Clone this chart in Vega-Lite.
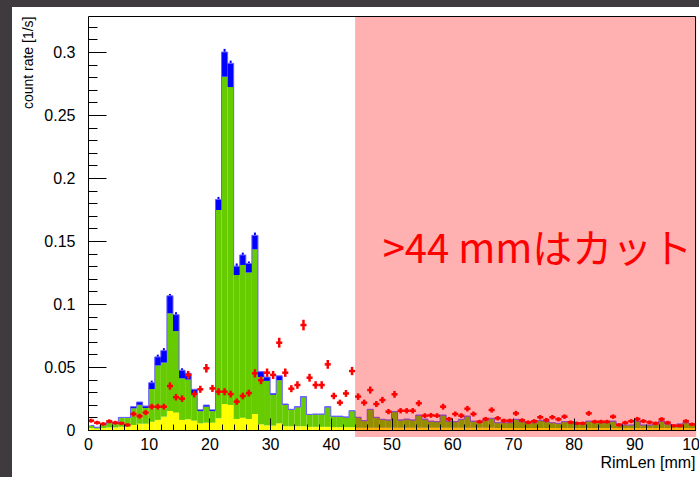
{
 "$schema": "https://vega.github.io/schema/vega-lite/v6.json",
 "width": 607, "height": 414,
 "autosize": "none",
 "padding": {"left": 88, "top": 16, "right": 4, "bottom": 47},
 "background": "#3f3a3d",
 "config": {"view": {"stroke": null}, "font": "Liberation Sans"},
 "datasets": {
  "bumps": [
   {"c":10.5,"b":0.0375,"t":0.0392},
   {"c":11.5,"b":0.0580,"t":0.0598},
   {"c":12.5,"b":0.0630,"t":0.0650},
   {"c":13.5,"b":0.1065,"t":0.1080},
   {"c":14.5,"b":0.0915,"t":0.0935},
   {"c":15.5,"b":0.0474,"t":0.0490},
   {"c":21.5,"b":0.1830,"t":0.1850},
   {"c":22.5,"b":0.3000,"t":0.3025},
   {"c":23.5,"b":0.2910,"t":0.2932},
   {"c":24.5,"b":0.1300,"t":0.1322},
   {"c":25.5,"b":0.1389,"t":0.1408},
   {"c":26.5,"b":0.1322,"t":0.1338},
   {"c":27.5,"b":0.1545,"t":0.1567}
  ]
 },
 "data": {"values": [
{"lo":0,"hi":1,"c":0.5,"y":0.0015,"g":0.0034,"b":0.0036,"r":0.0074,"e":0.0016},
{"lo":1,"hi":2,"c":1.5,"y":0.0010,"g":0.0020,"b":0.0022,"r":0.0058,"e":0.0015},
{"lo":2,"hi":3,"c":2.5,"y":0.0015,"g":0.0040,"b":0.0042,"r":0.0048,"e":0.0014},
{"lo":3,"hi":4,"c":3.5,"y":0.0020,"g":0.0058,"b":0.0062,"r":0.0069,"e":0.0016},
{"lo":4,"hi":5,"c":4.5,"y":0.0020,"g":0.0050,"b":0.0054,"r":0.0058,"e":0.0015},
{"lo":5,"hi":6,"c":5.5,"y":0.0025,"g":0.0095,"b":0.0100,"r":0.0053,"e":0.0014},
{"lo":6,"hi":7,"c":6.5,"y":0.0025,"g":0.0095,"b":0.0100,"r":0.0040,"e":0.0013},
{"lo":7,"hi":8,"c":7.5,"y":0.0040,"g":0.0172,"b":0.0185,"r":0.0127,"e":0.0020},
{"lo":8,"hi":9,"c":8.5,"y":0.0050,"g":0.0200,"b":0.0222,"r":0.0110,"e":0.0019},
{"lo":9,"hi":10,"c":9.5,"y":0.0050,"g":0.0175,"b":0.0190,"r":0.0138,"e":0.0020},
{"lo":10,"hi":11,"c":10.5,"y":0.0066,"g":0.0325,"b":0.0375,"r":0.0185,"e":0.0023},
{"lo":11,"hi":12,"c":11.5,"y":0.0080,"g":0.0512,"b":0.0580,"r":0.0185,"e":0.0023},
{"lo":12,"hi":13,"c":12.5,"y":0.0106,"g":0.0535,"b":0.0630,"r":0.0185,"e":0.0023},
{"lo":13,"hi":14,"c":13.5,"y":0.0151,"g":0.0926,"b":0.1065,"r":0.0349,"e":0.0029},
{"lo":14,"hi":15,"c":14.5,"y":0.0138,"g":0.0785,"b":0.0915,"r":0.0260,"e":0.0026},
{"lo":15,"hi":16,"c":15.5,"y":0.0080,"g":0.0410,"b":0.0474,"r":0.0249,"e":0.0026},
{"lo":16,"hi":17,"c":16.5,"y":0.0085,"g":0.0400,"b":0.0450,"r":0.0437,"e":0.0032},
{"lo":17,"hi":18,"c":17.5,"y":0.0074,"g":0.0280,"b":0.0323,"r":0.0286,"e":0.0027},
{"lo":18,"hi":19,"c":18.5,"y":0.0053,"g":0.0150,"b":0.0160,"r":0.0323,"e":0.0028},
{"lo":19,"hi":20,"c":19.5,"y":0.0058,"g":0.0185,"b":0.0198,"r":0.0490,"e":0.0034},
{"lo":20,"hi":21,"c":20.5,"y":0.0058,"g":0.0150,"b":0.0160,"r":0.0330,"e":0.0028},
{"lo":21,"hi":22,"c":21.5,"y":0.0093,"g":0.1746,"b":0.1830,"r":0.0304,"e":0.0028},
{"lo":22,"hi":23,"c":22.5,"y":0.0206,"g":0.2804,"b":0.3000,"r":0.0304,"e":0.0028},
{"lo":23,"hi":24,"c":23.5,"y":0.0198,"g":0.2722,"b":0.2910,"r":0.0285,"e":0.0027},
{"lo":24,"hi":25,"c":24.5,"y":0.0087,"g":0.1230,"b":0.1300,"r":0.0225,"e":0.0025},
{"lo":25,"hi":26,"c":25.5,"y":0.0098,"g":0.1310,"b":0.1389,"r":0.0270,"e":0.0026},
{"lo":26,"hi":27,"c":26.5,"y":0.0087,"g":0.1250,"b":0.1322,"r":0.0293,"e":0.0027},
{"lo":27,"hi":28,"c":27.5,"y":0.0127,"g":0.1434,"b":0.1545,"r":0.0450,"e":0.0033},
{"lo":28,"hi":29,"c":28.5,"y":0.0045,"g":0.0420,"b":0.0463,"r":0.0395,"e":0.0031},
{"lo":29,"hi":30,"c":29.5,"y":0.0037,"g":0.0390,"b":0.0420,"r":0.0455,"e":0.0033},
{"lo":30,"hi":31,"c":30.5,"y":0.0035,"g":0.0280,"b":0.0290,"r":0.0437,"e":0.0032},
{"lo":31,"hi":32,"c":31.5,"y":0.0053,"g":0.0395,"b":0.0430,"r":0.0693,"e":0.0039},
{"lo":32,"hi":33,"c":32.5,"y":0.0030,"g":0.0200,"b":0.0206,"r":0.0455,"e":0.0033},
{"lo":33,"hi":34,"c":33.5,"y":0.0030,"g":0.0160,"b":0.0164,"r":0.0328,"e":0.0028},
{"lo":34,"hi":35,"c":34.5,"y":0.0030,"g":0.0180,"b":0.0185,"r":0.0357,"e":0.0030},
{"lo":35,"hi":36,"c":35.5,"y":0.0030,"g":0.0260,"b":0.0265,"r":0.0833,"e":0.0042},
{"lo":36,"hi":37,"c":36.5,"y":0.0025,"g":0.0120,"b":0.0124,"r":0.0415,"e":0.0031},
{"lo":37,"hi":38,"c":37.5,"y":0.0025,"g":0.0124,"b":0.0127,"r":0.0357,"e":0.0030},
{"lo":38,"hi":39,"c":38.5,"y":0.0025,"g":0.0124,"b":0.0127,"r":0.0357,"e":0.0030},
{"lo":39,"hi":40,"c":39.5,"y":0.0025,"g":0.0180,"b":0.0185,"r":0.0521,"e":0.0035},
{"lo":40,"hi":41,"c":40.5,"y":0.0022,"g":0.0106,"b":0.0110,"r":0.0270,"e":0.0026},
{"lo":41,"hi":42,"c":41.5,"y":0.0022,"g":0.0106,"b":0.0110,"r":0.0217,"e":0.0024},
{"lo":42,"hi":43,"c":42.5,"y":0.0022,"g":0.0100,"b":0.0104,"r":0.0290,"e":0.0027},
{"lo":43,"hi":44,"c":43.5,"y":0.0022,"g":0.0150,"b":0.0153,"r":0.0468,"e":0.0033},
{"lo":44,"hi":45,"c":44.5,"y":0.0018,"g":0.0098,"b":0.0101,"r":0.0265,"e":0.0026},
{"lo":45,"hi":46,"c":45.5,"y":0.0018,"g":0.0071,"b":0.0074,"r":0.0217,"e":0.0024},
{"lo":46,"hi":47,"c":46.5,"y":0.0018,"g":0.0160,"b":0.0164,"r":0.0317,"e":0.0028},
{"lo":47,"hi":48,"c":47.5,"y":0.0018,"g":0.0098,"b":0.0101,"r":0.0206,"e":0.0024},
{"lo":48,"hi":49,"c":48.5,"y":0.0018,"g":0.0082,"b":0.0085,"r":0.0238,"e":0.0025},
{"lo":49,"hi":50,"c":49.5,"y":0.0018,"g":0.0077,"b":0.0080,"r":0.0146,"e":0.0021},
{"lo":50,"hi":51,"c":50.5,"y":0.0018,"g":0.0142,"b":0.0146,"r":0.0283,"e":0.0027},
{"lo":51,"hi":52,"c":51.5,"y":0.0018,"g":0.0077,"b":0.0080,"r":0.0153,"e":0.0021},
{"lo":52,"hi":53,"c":52.5,"y":0.0018,"g":0.0084,"b":0.0087,"r":0.0153,"e":0.0021},
{"lo":53,"hi":54,"c":53.5,"y":0.0018,"g":0.0077,"b":0.0080,"r":0.0153,"e":0.0021},
{"lo":54,"hi":55,"c":54.5,"y":0.0018,"g":0.0115,"b":0.0119,"r":0.0212,"e":0.0024},
{"lo":55,"hi":56,"c":55.5,"y":0.0018,"g":0.0084,"b":0.0087,"r":0.0114,"e":0.0019},
{"lo":56,"hi":57,"c":56.5,"y":0.0018,"g":0.0068,"b":0.0071,"r":0.0116,"e":0.0019},
{"lo":57,"hi":58,"c":57.5,"y":0.0018,"g":0.0063,"b":0.0066,"r":0.0114,"e":0.0019},
{"lo":58,"hi":59,"c":58.5,"y":0.0018,"g":0.0115,"b":0.0119,"r":0.0185,"e":0.0023},
{"lo":59,"hi":60,"c":59.5,"y":0.0018,"g":0.0068,"b":0.0071,"r":0.0087,"e":0.0017},
{"lo":60,"hi":61,"c":60.5,"y":0.0018,"g":0.0063,"b":0.0066,"r":0.0127,"e":0.0020},
{"lo":61,"hi":62,"c":61.5,"y":0.0018,"g":0.0082,"b":0.0085,"r":0.0114,"e":0.0019},
{"lo":62,"hi":63,"c":62.5,"y":0.0018,"g":0.0108,"b":0.0111,"r":0.0169,"e":0.0022},
{"lo":63,"hi":64,"c":63.5,"y":0.0018,"g":0.0068,"b":0.0071,"r":0.0127,"e":0.0020},
{"lo":64,"hi":65,"c":64.5,"y":0.0018,"g":0.0063,"b":0.0066,"r":0.0066,"e":0.0015},
{"lo":65,"hi":66,"c":65.5,"y":0.0018,"g":0.0077,"b":0.0080,"r":0.0087,"e":0.0017},
{"lo":66,"hi":67,"c":66.5,"y":0.0018,"g":0.0090,"b":0.0093,"r":0.0159,"e":0.0021},
{"lo":67,"hi":68,"c":67.5,"y":0.0016,"g":0.0056,"b":0.0058,"r":0.0093,"e":0.0018},
{"lo":68,"hi":69,"c":68.5,"y":0.0016,"g":0.0056,"b":0.0058,"r":0.0074,"e":0.0016},
{"lo":69,"hi":70,"c":69.5,"y":0.0016,"g":0.0056,"b":0.0058,"r":0.0074,"e":0.0016},
{"lo":70,"hi":71,"c":70.5,"y":0.0016,"g":0.0082,"b":0.0085,"r":0.0132,"e":0.0020},
{"lo":71,"hi":72,"c":71.5,"y":0.0016,"g":0.0063,"b":0.0066,"r":0.0077,"e":0.0016},
{"lo":72,"hi":73,"c":72.5,"y":0.0016,"g":0.0056,"b":0.0058,"r":0.0061,"e":0.0015},
{"lo":73,"hi":74,"c":73.5,"y":0.0016,"g":0.0056,"b":0.0058,"r":0.0070,"e":0.0016},
{"lo":74,"hi":75,"c":74.5,"y":0.0016,"g":0.0071,"b":0.0074,"r":0.0101,"e":0.0018},
{"lo":75,"hi":76,"c":75.5,"y":0.0016,"g":0.0063,"b":0.0066,"r":0.0079,"e":0.0017},
{"lo":76,"hi":77,"c":76.5,"y":0.0016,"g":0.0056,"b":0.0058,"r":0.0101,"e":0.0018},
{"lo":77,"hi":78,"c":77.5,"y":0.0016,"g":0.0051,"b":0.0053,"r":0.0085,"e":0.0017},
{"lo":78,"hi":79,"c":78.5,"y":0.0016,"g":0.0063,"b":0.0066,"r":0.0106,"e":0.0018},
{"lo":79,"hi":80,"c":79.5,"y":0.0016,"g":0.0063,"b":0.0066,"r":0.0061,"e":0.0015},
{"lo":80,"hi":81,"c":80.5,"y":0.0016,"g":0.0051,"b":0.0053,"r":0.0053,"e":0.0014},
{"lo":81,"hi":82,"c":81.5,"y":0.0016,"g":0.0046,"b":0.0048,"r":0.0053,"e":0.0014},
{"lo":82,"hi":83,"c":82.5,"y":0.0016,"g":0.0068,"b":0.0071,"r":0.0132,"e":0.0020},
{"lo":83,"hi":84,"c":83.5,"y":0.0016,"g":0.0063,"b":0.0066,"r":0.0066,"e":0.0015},
{"lo":84,"hi":85,"c":84.5,"y":0.0016,"g":0.0056,"b":0.0058,"r":0.0066,"e":0.0015},
{"lo":85,"hi":86,"c":85.5,"y":0.0016,"g":0.0056,"b":0.0058,"r":0.0066,"e":0.0015},
{"lo":86,"hi":87,"c":86.5,"y":0.0016,"g":0.0068,"b":0.0071,"r":0.0106,"e":0.0018},
{"lo":87,"hi":88,"c":87.5,"y":0.0016,"g":0.0046,"b":0.0048,"r":0.0040,"e":0.0013},
{"lo":88,"hi":89,"c":88.5,"y":0.0016,"g":0.0038,"b":0.0040,"r":0.0058,"e":0.0015},
{"lo":89,"hi":90,"c":89.5,"y":0.0016,"g":0.0038,"b":0.0040,"r":0.0070,"e":0.0016},
{"lo":90,"hi":91,"c":90.5,"y":0.0016,"g":0.0068,"b":0.0071,"r":0.0087,"e":0.0017},
{"lo":91,"hi":92,"c":91.5,"y":0.0016,"g":0.0038,"b":0.0040,"r":0.0070,"e":0.0016},
{"lo":92,"hi":93,"c":92.5,"y":0.0016,"g":0.0038,"b":0.0040,"r":0.0061,"e":0.0015},
{"lo":93,"hi":94,"c":93.5,"y":0.0016,"g":0.0046,"b":0.0048,"r":0.0053,"e":0.0014},
{"lo":94,"hi":95,"c":94.5,"y":0.0016,"g":0.0068,"b":0.0071,"r":0.0085,"e":0.0017},
{"lo":95,"hi":96,"c":95.5,"y":0.0016,"g":0.0046,"b":0.0048,"r":0.0058,"e":0.0015},
{"lo":96,"hi":97,"c":96.5,"y":0.0016,"g":0.0035,"b":0.0037,"r":0.0034,"e":0.0013},
{"lo":97,"hi":98,"c":97.5,"y":0.0016,"g":0.0046,"b":0.0048,"r":0.0034,"e":0.0013},
{"lo":98,"hi":99,"c":98.5,"y":0.0016,"g":0.0056,"b":0.0058,"r":0.0070,"e":0.0016},
{"lo":99,"hi":100,"c":99.5,"y":0.0016,"g":0.0046,"b":0.0048,"r":0.0045,"e":0.0014}
 ]},
 "resolve": {"axis": {"x": "independent", "y": "independent"}},
 "layer": [
  {
   "data": {"values": [{}]},
   "mark": {"type": "rect", "fill": "#ffffff"},
   "encoding": {
    "x": {"datum": -12.52, "type": "quantitative", "scale": {"domain": [0, 100], "nice": false, "zero": false}, "axis": null},
    "x2": {"datum": 102},
    "y": {"datum": -0.05, "type": "quantitative", "scale": {"domain": [0, 0.3286], "nice": false, "zero": false}, "axis": null},
    "y2": {"datum": 0.3357}
   }
  },
  {
   "mark": {"type": "bar", "color": "#ffff00"},
   "encoding": {
    "x": {"field": "lo", "type": "quantitative", "axis": {"orient": "bottom", "values": [0,10,20,30,40,50,60,70,80,90,100], "format": "d", "tickSize": -12, "tickColor": "#000", "tickWidth": 1, "labelPadding": 18, "labelFontSize": 16, "labelColor": "#000", "labelFlush": false, "labelOverlap": false, "labelBound": false, "domain": true, "domainColor": "#000", "domainWidth": 1, "grid": false, "title": "RimLen [mm]", "titleFontSize": 16, "titleFontWeight": "normal", "titleColor": "#000", "titleAnchor": "end", "titleAlign": "right", "titlePadding": 2, "zindex": 1}},
    "x2": {"field": "hi"},
    "y": {"field": "y", "type": "quantitative", "axis": {"orient": "left", "values": [0,0.05,0.1,0.15,0.2,0.25,0.3], "format": "~g", "tickSize": -18, "tickColor": "#000", "tickWidth": 1, "labelPadding": 31, "labelFontSize": 16, "labelColor": "#000", "labelFlush": false, "labelOverlap": false, "labelBound": false, "domain": true, "domainColor": "#000", "domainWidth": 1, "grid": false, "title": "count rate [1/s]", "titleFontSize": 14, "titleFontWeight": "normal", "titleColor": "#000", "titleX": -60, "titleY": 0, "titleAlign": "right", "titleAngle": -90, "titleBaseline": "middle", "zindex": 1}},
    "y2": {"datum": 0}
   }
  },
  {
   "mark": {"type": "bar", "color": "#66cc00"},
   "encoding": {
    "x": {"field": "lo", "type": "quantitative", "axis": {"orient": "bottom", "values": [0,2,4,6,8,10,12,14,16,18,20,22,24,26,28,30,32,34,36,38,40,42,44,46,48,50,52,54,56,58,60,62,64,66,68,70,72,74,76,78,80,82,84,86,88,90,92,94,96,98,100], "labels": false, "tickSize": -6, "tickColor": "#000", "tickWidth": 1, "domain": false, "grid": false, "title": null, "zindex": 1}},
    "x2": {"field": "hi"},
    "y": {"field": "g", "type": "quantitative", "axis": {"orient": "left", "values": [0,0.01,0.02,0.03,0.04,0.05,0.06,0.07,0.08,0.09,0.1,0.11,0.12,0.13,0.14,0.15,0.16,0.17,0.18,0.19,0.2,0.21,0.22,0.23,0.24,0.25,0.26,0.27,0.28,0.29,0.3,0.31,0.32], "labels": false, "tickSize": -9, "tickColor": "#000", "tickWidth": 1, "domain": false, "grid": false, "title": null, "zindex": 1}},
    "y2": {"field": "y"}
   }
  },
  {
   "mark": {"type": "bar", "color": "#0000ff"},
   "encoding": {
    "x": {"field": "lo", "type": "quantitative", "axis": {"orient": "top", "ticks": false, "labels": false, "domain": true, "domainColor": "#000", "domainWidth": 1, "grid": false, "title": null, "zindex": 1}},
    "x2": {"field": "hi"},
    "y": {"field": "b", "type": "quantitative", "axis": {"orient": "right", "ticks": false, "labels": false, "domain": true, "domainColor": "#000", "domainWidth": 1, "grid": false, "title": null, "zindex": 1}},
    "y2": {"field": "g"}
   }
  },
  {
   "data": {"name": "bumps"},
   "mark": {"type": "rule", "color": "#0000ff", "strokeWidth": 2},
   "encoding": {
    "x": {"field": "c", "type": "quantitative", "axis": null},
    "y": {"field": "b", "type": "quantitative", "axis": null},
    "y2": {"field": "t"}
   }
  },
  {
   "mark": {"type": "line", "interpolate": "step", "color": "#6a5cff", "strokeWidth": 1},
   "encoding": {
    "x": {"field": "c", "type": "quantitative", "axis": null},
    "y": {"field": "b", "type": "quantitative", "axis": null}
   }
  },
  {
   "mark": {"type": "rule", "color": "#ff0000", "strokeWidth": 2.5},
   "encoding": {
    "x": {"field": "lo", "type": "quantitative", "axis": null},
    "x2": {"field": "hi"},
    "y": {"field": "r", "type": "quantitative", "axis": null}
   }
  },
  {
   "mark": {"type": "errorbar", "color": "#ff0000", "thickness": 2.5},
   "encoding": {
    "x": {"field": "c", "type": "quantitative", "axis": null},
    "y": {"field": "r", "type": "quantitative", "axis": null},
    "yError": {"field": "e"}
   }
  },
  {
   "data": {"values": [{}]},
   "mark": {"type": "rect", "fill": "#ff0000", "opacity": 0.31},
   "encoding": {
    "x": {"datum": 44, "type": "quantitative", "axis": null},
    "x2": {"datum": 100.2},
    "y": {"datum": -0.0055, "type": "quantitative", "axis": null},
    "y2": {"datum": 0.3286}
   }
  },
  {
   "data": {"values": [{"label": ">44 mmはカット"}]},
   "mark": {"type": "text", "color": "#ff0000", "font": "Noto Sans CJK JP", "fontSize": 40, "align": "center", "baseline": "alphabetic"},
   "encoding": {
    "text": {"field": "label"},
    "x": {"datum": 74.05, "type": "quantitative", "axis": null},
    "y": {"datum": 0.1325, "type": "quantitative", "axis": null}
   }
  }
 ]
}
